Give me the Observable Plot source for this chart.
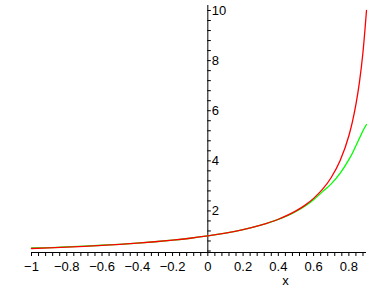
<!DOCTYPE html>
<html>
<head>
<meta charset="utf-8">
<script src="https://cdn.jsdelivr.net/npm/d3@7"></script>
<script src="https://cdn.jsdelivr.net/npm/@observablehq/plot@0.6"></script>
<style>
  html, body { margin: 0; padding: 0; background: white; }
</style>
</head>
<body>
<div id="chart"></div>
<script>
// x positions sampled along the curves
const xs = [-1, -0.9, -0.8, -0.7, -0.6, -0.5, -0.4, -0.3, -0.2, -0.1, 0, 0.1, 0.2, 0.3, 0.4, 0.5, 0.55, 0.6, 0.65, 0.7, 0.75, 0.8, 0.82, 0.84, 0.86, 0.88, 0.9];
// red curve values
const redValues = [0.5, 0.526, 0.556, 0.588, 0.625, 0.667, 0.714, 0.769, 0.833, 0.909, 1, 1.111, 1.25, 1.429, 1.667, 2, 2.222, 2.5, 2.857, 3.333, 4, 5, 5.556, 6.25, 7.143, 8.333, 10];
// green curve values
const greenValues = [0.52, 0.535, 0.565, 0.595, 0.63, 0.668, 0.714, 0.769, 0.833, 0.909, 1, 1.111, 1.25, 1.428, 1.66, 1.98, 2.19, 2.45, 2.76, 3.08, 3.5, 4.05, 4.3, 4.6, 4.9, 5.2, 5.45];

// axis tick labels
const xTickLabels = [-1, -0.8, -0.6, -0.4, -0.2, 0, 0.2, 0.4, 0.6, 0.8];
const yTickLabels = [2, 4, 6, 8, 10];

const xMinor = d3.range(0, 48).map(i => Math.round((-1 + i * 0.04) * 100) / 100);
const yMinor = d3.range(1, 26).map(i => Math.round(i * 0.4 * 10) / 10);

const data = xs.map((x, i) => ({x, red: redValues[i], green: greenValues[i]}));

const Y0 = 0.34;
const fmt = d => (d < 0 ? "\u2212" : "") + String(Math.abs(d));

const chart = Plot.plot({
  width: 388,
  height: 288,
  marginTop: 5,
  marginBottom: 36,
  marginLeft: 31,
  marginRight: 22,
  x: {domain: [-1, 0.9], axis: null},
  y: {domain: [Y0, 10.2], axis: null},
  style: {fontFamily: "'Liberation Sans', Arial, sans-serif", fontSize: "13px", background: "white", color: "black", overflow: "visible"},
  marks: [
    Plot.ruleY([Y0], {x1: -1, x2: 0.9, stroke: "black"}),
    Plot.ruleX([0], {y1: Y0, y2: 10.2, stroke: "black"}),
    Plot.ruleX(xMinor, {y1: Y0, y2: 0.18, stroke: "black"}),
    Plot.ruleY(yMinor, {x1: 0, x2: 0.02, stroke: "black"}),
    Plot.text(xTickLabels, {x: d => d, y: Y0, dy: 14, text: fmt, fill: "black"}),
    Plot.text(yTickLabels, {x: 0, y: d => d, dx: 4, textAnchor: "start", text: d => String(d), fill: "black"}),
    Plot.text(["x"], {x: 0.44, y: Y0, dy: 28.5, text: d => d, fill: "black"}),
    Plot.line(data, {x: "x", y: "green", stroke: "#00ff00", strokeWidth: 1.3, curve: "monotone-x"}),
    Plot.line(data, {x: "x", y: "red", stroke: "#ff0000", strokeWidth: 1.3, curve: "monotone-x"})
  ]
});
document.getElementById("chart").appendChild(chart);
</script>
</body>
</html>
